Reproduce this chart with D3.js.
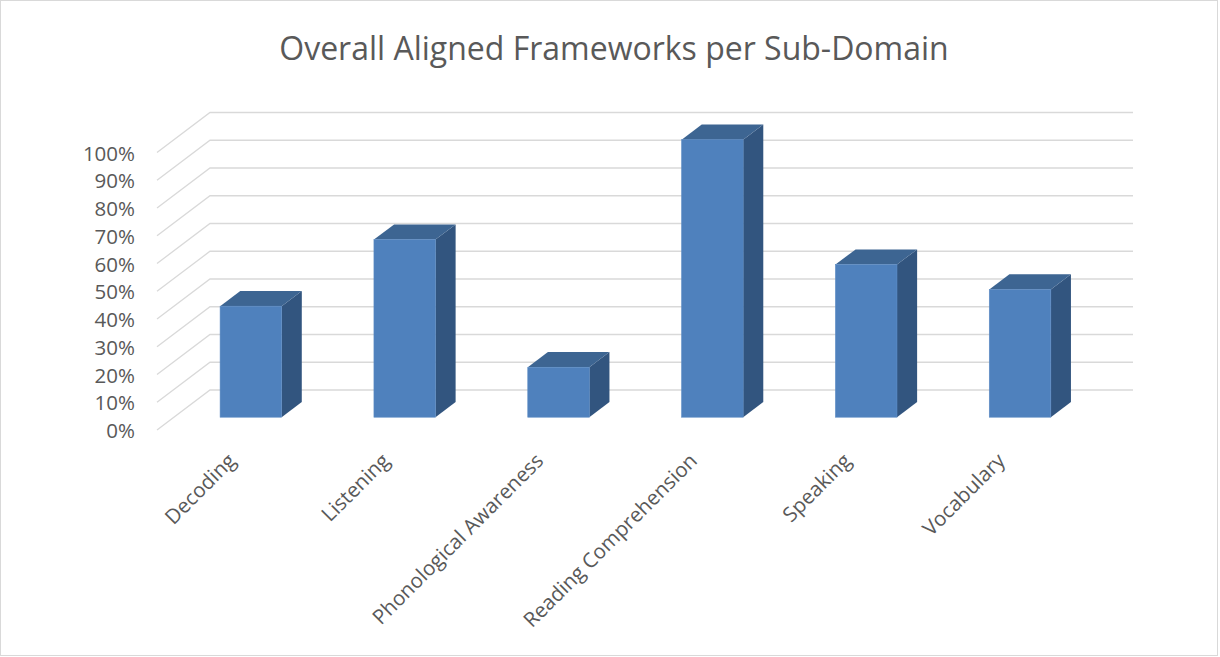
<!DOCTYPE html>
<html>
<head>
<meta charset="utf-8">
<script src="https://cdn.jsdelivr.net/npm/d3@7"></script>
<style>
  body { margin: 0; background: #fff; }
  text { font-family: "Open Sans", sans-serif; fill: #595959; }
</style>
</head>
<body>
<div id="chart"></div>
<script>
// Data
var categories = ["Decoding", "Listening", "Phonological Awareness", "Reading Comprehension", "Speaking", "Vocabulary"];
var values = [0.40, 0.64, 0.18, 1.00, 0.55, 0.46];
var yTicks = [0, 0.1, 0.2, 0.3, 0.4, 0.5, 0.6, 0.7, 0.8, 0.9, 1.0];
var chartTitle = "Overall Aligned Frameworks per Sub-Domain";

const W = 1220, H = 657;
// front-left-bottom corner of the floor and the depth vector of the 3D box
const origin = { x: 157, y: 430 };
const depth = { x: 53, y: -40 };
const plotWidth = 923;
const plotHeight = 277.5;
// bar depth position (fraction of floor depth)
const z0 = 0.32, z1 = 0.70;

const svg = d3.select("#chart")
  .append("svg")
  .attr("width", W)
  .attr("height", H);

// chart border
svg.append("rect")
  .attr("x", 0.5).attr("y", 0.5)
  .attr("width", W - 3).attr("height", H - 2)
  .attr("fill", "none")
  .attr("stroke", "#d9d9d9");

const xScale = d3.scaleBand()
  .domain(categories)
  .range([0, plotWidth])
  .paddingInner(0.6)
  .paddingOuter(0.3);

const yScale = d3.scaleLinear()
  .domain([0, 1])
  .range([0, plotHeight]);

// project (x along categories, height, depth fraction) to screen
function p(x, h, z) {
  return [origin.x + x + z * depth.x, origin.y - h + z * depth.y];
}

// Gridlines: side wall diagonals + back wall
const grid = svg.append("g").attr("class", "grid");
yTicks.forEach(function (t) {
  var a = p(0, yScale(t), 0), b = p(0, yScale(t), 1), c = p(plotWidth, yScale(t), 1);
  grid.append("path")
    .attr("d", "M" + a + "L" + b + "L" + c)
    .attr("fill", "none")
    .attr("stroke", "#d9d9d9")
    .attr("stroke-width", 1.3);
});

// Y axis labels
svg.append("g").selectAll("text")
  .data(yTicks)
  .enter()
  .append("text")
  .attr("x", 135)
  .attr("y", function (d) { return p(0, yScale(d), 0)[1] + 1; })
  .attr("dy", "0.35em")
  .attr("text-anchor", "end")
  .style("font-size", "20.5px")
  .text(function (d) { return d3.format(".0%")(d); });

// Bars
const bars = svg.append("g").attr("class", "bars");
categories.forEach(function (cat, i) {
  var x0 = xScale(cat), x1 = x0 + xScale.bandwidth();
  var h = yScale(values[i]);
  var g = bars.append("g");
  // side face
  g.append("path")
    .attr("d", "M" + p(x1, 0, z0) + "L" + p(x1, 0, z1) + "L" + p(x1, h, z1) + "L" + p(x1, h, z0) + "Z")
    .attr("fill", "#32557f");
  // top face
  g.append("path")
    .attr("d", "M" + p(x0, h, z0) + "L" + p(x1, h, z0) + "L" + p(x1, h, z1) + "L" + p(x0, h, z1) + "Z")
    .attr("fill", "#3d6592");
  // front face
  var f0 = p(x0, h, z0), f1 = p(x1, 0, z0);
  g.append("rect")
    .attr("x", f0[0])
    .attr("y", f0[1])
    .attr("width", f1[0] - f0[0])
    .attr("height", f1[1] - f0[1])
    .attr("fill", "#4f81bd")
    .attr("stroke", "#5a8ac3")
    .attr("stroke-width", 0.6);
});

// Category labels
svg.append("g").selectAll("text")
  .data(categories)
  .enter()
  .append("text")
  .attr("transform", function (d) {
    var c = p(xScale(d) + xScale.bandwidth() / 2, 0, 0);
    return "translate(" + (c[0] - 2) + "," + (c[1] + 27) + ") rotate(-45)";
  })
  .attr("dy", "0.35em")
  .attr("text-anchor", "end")
  .style("font-size", "20.5px")
  .text(function (d) { return d; });

// Title
svg.append("text")
  .attr("x", 614)
  .attr("y", 60)
  .attr("text-anchor", "middle")
  .style("font-size", "32px")
  .text(chartTitle);
</script>
</body>
</html>
